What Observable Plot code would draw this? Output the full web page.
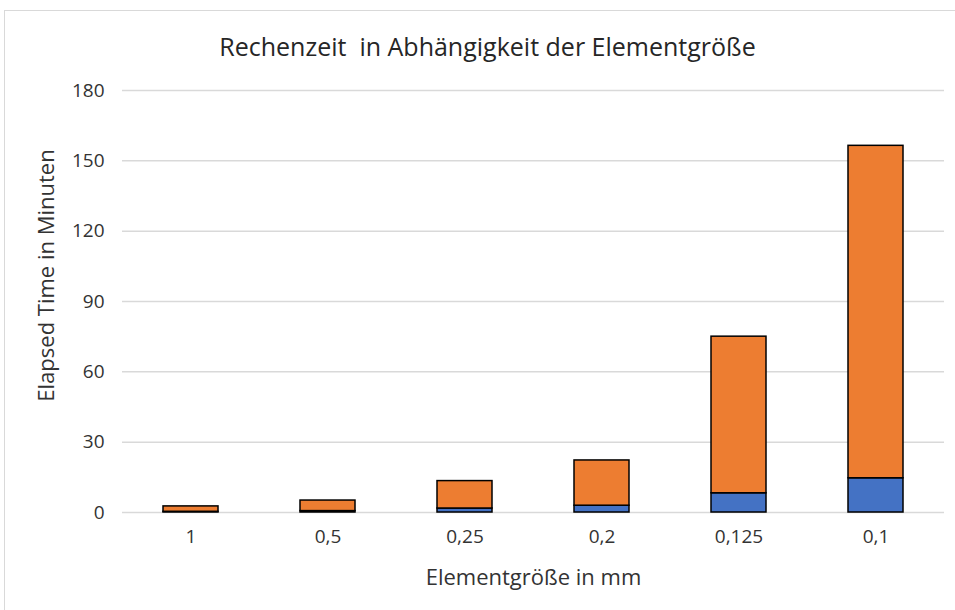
<!DOCTYPE html>
<html>
<head>
<meta charset="utf-8">
<script src="https://cdn.jsdelivr.net/npm/d3@7"></script>
<script src="https://cdn.jsdelivr.net/npm/@observablehq/plot@0.6"></script>
<style>
  html, body { margin: 0; padding: 0; background: #fff; }
  #wrap { position: relative; width: 955px; height: 610px; overflow: hidden; font-family: "Open Sans", sans-serif; }
  #frame { position: absolute; left: 4px; top: 10px; width: 1000px; height: 1000px; border: 1px solid #d9d9d9; box-sizing: border-box; }
  #title { position: absolute; left: 0; width: 975px; top: 28px; text-align: center; font-size: 25px; color: #262626; line-height: 36px; }
  #chart { position: absolute; left: 0; top: 70px; }
</style>
</head>
<body>
<div id="wrap">
  <div id="frame"></div>
  <div id="title">Rechenzeit&nbsp; in Abhängigkeit der Elementgröße</div>
  <div id="chart"></div>
</div>
<script>
const categories = ["1", "0,5", "0,25", "0,2", "0,125", "0,1"];
const blueValues = [0.3, 0.6, 1.7, 2.9, 8.2, 14.6];
const orangeValues = [2.3, 4.5, 11.7, 19.3, 66.8, 141.8];
const yTicks = [0, 30, 60, 90, 120, 150, 180];
const seriesNames = ["Teil A", "Teil B"];

const data = [];
categories.forEach((c, i) => {
  data.push({cat: c, series: seriesNames[0], value: blueValues[i]});
  data.push({cat: c, series: seriesNames[1], value: orangeValues[i]});
});

const chart = Plot.plot({
  width: 955,
  height: 540,
  marginTop: 20,
  marginBottom: 98,
  marginLeft: 122,
  marginRight: 11,
  style: {fontFamily: "Open Sans, sans-serif", fontSize: "19px", color: "#333333", background: "transparent", overflow: "visible"},
  x: {domain: categories, paddingInner: 0.6, paddingOuter: 0.3},
  y: {domain: [0, 180]},
  color: {domain: seriesNames, range: ["#4472C4", "#ED7D31"]},
  marks: [
    Plot.gridY(yTicks, {stroke: "#d9d9d9", strokeOpacity: 1, strokeWidth: 1.5}),
    Plot.axisY(yTicks, {tickSize: 0, tickPadding: 18, label: "Elapsed Time in Minuten", labelAnchor: "center", labelArrow: "none", labelOffset: 84, fontSize: 19}),
    Plot.axisX({tickSize: 0, tickPadding: 17, label: "Elementgröße in mm", labelAnchor: "center", labelArrow: "none", labelOffset: 72, fontSize: 19}),
    Plot.barY(data, Plot.stackY({x: "cat", y: "value", fill: "series", stroke: "#000", strokeWidth: 1.5, order: seriesNames})),
  ]
});
chart.querySelectorAll("[aria-label='y-axis label'] text, [aria-label='x-axis label'] text").forEach(t => t.style.fontSize = "22px");
// move the rotated y label up to match the reference's vertical placement
chart.querySelectorAll("[aria-label='y-axis label']").forEach(g => {
  const prev = g.getAttribute("transform") || "";
  g.setAttribute("transform", prev + " translate(0,-26)");
});
document.getElementById("chart").appendChild(chart);
</script>
</body>
</html>
